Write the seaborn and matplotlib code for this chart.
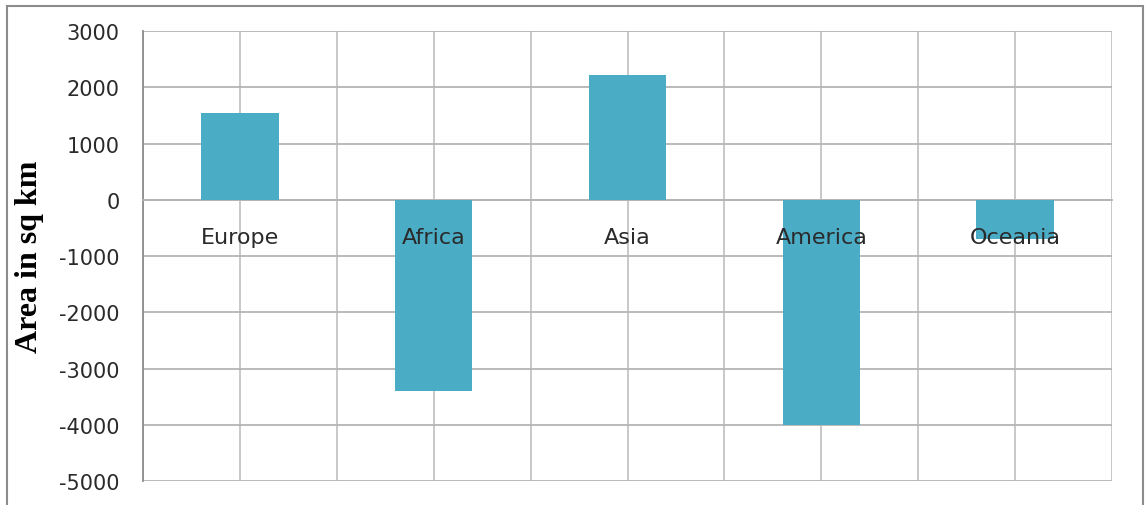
import numpy as np
import matplotlib
matplotlib.use("Agg")
import matplotlib.pyplot as plt
from matplotlib.patches import Rectangle
import seaborn as sns

# Change in area per continent (sq km)
continents = ["Europe", "Africa", "Asia", "America", "Oceania"]
area_change = [1550, -3400, 2220, -4000, -700]
y_ticks = [3000, 2000, 1000, 0, -1000, -2000, -3000, -4000, -5000]

sns.set_theme(style="white")
plt.rcParams["font.family"] = ["DejaVu Sans"]

bar_color = "#4BACC6"
grid_color = "#b4b4b4"
text_color = "#2a2a2a"

fig = plt.figure(figsize=(11.46, 5.06), dpi=100)
fig.patch.set_facecolor("white")

# Outer chart frame
fig.patches.append(Rectangle((7 / 1146, -0.2), 1136 / 1146, 1.2 - 7 / 506,
                             transform=fig.transFigure, fill=False,
                             edgecolor="#8c8c8c", linewidth=1.5))

ax = fig.add_axes([143 / 1146, 1 - 482 / 506, 969 / 1146, 450 / 506])

sns.barplot(x=continents, y=area_change, color=bar_color, saturation=1,
            width=0.4, linewidth=0, ax=ax, zorder=3)

n = len(continents)
ax.set_xlim(-0.5, n - 0.5)
ax.set_ylim(min(y_ticks), max(y_ticks))
ax.set_yticks(y_ticks)
ax.set_yticklabels([str(v) for v in y_ticks])

# Vertical grid at category centres and boundaries
ax.set_xticks(np.arange(n))
ax.set_xticklabels([""] * n)
ax.set_xticks(np.arange(n + 1) - 0.5, minor=True)
ax.tick_params(axis="x", which="major", length=0)
ax.tick_params(axis="x", which="minor", length=7, width=1.2, color="#8c8c8c",
               direction="out")
ax.grid(True, which="both", axis="x", color="#c4c4c4", linewidth=1.3, zorder=0)
ax.grid(True, which="major", axis="y", color=grid_color, linewidth=1.3, zorder=0)
ax.set_axisbelow(True)

ax.tick_params(axis="y", length=8, width=1.2, color="#8c8c8c", direction="out",
               pad=9, labelsize=15, labelcolor=text_color)

for side in ["top", "right"]:
    ax.spines[side].set_visible(False)
ax.spines["left"].set_color("#8c8c8c")
ax.spines["left"].set_linewidth(1.3)
ax.spines["bottom"].set_position(("data", 0))
ax.spines["bottom"].set_color(grid_color)
ax.spines["bottom"].set_linewidth(1.3)

# Category names sit just under the zero line
for i, name in enumerate(continents):
    ax.text(i, -660, name, ha="center", va="center", fontsize=16,
            color=text_color, zorder=5)

ax.set_ylabel("Area in sq km", fontsize=23, fontweight="bold",
              family="Liberation Serif", color="black")
ax.yaxis.set_label_coords(-0.102, 0.5)
ax.set_xlabel("")

fig.savefig("out.png", dpi=100, facecolor="white")
